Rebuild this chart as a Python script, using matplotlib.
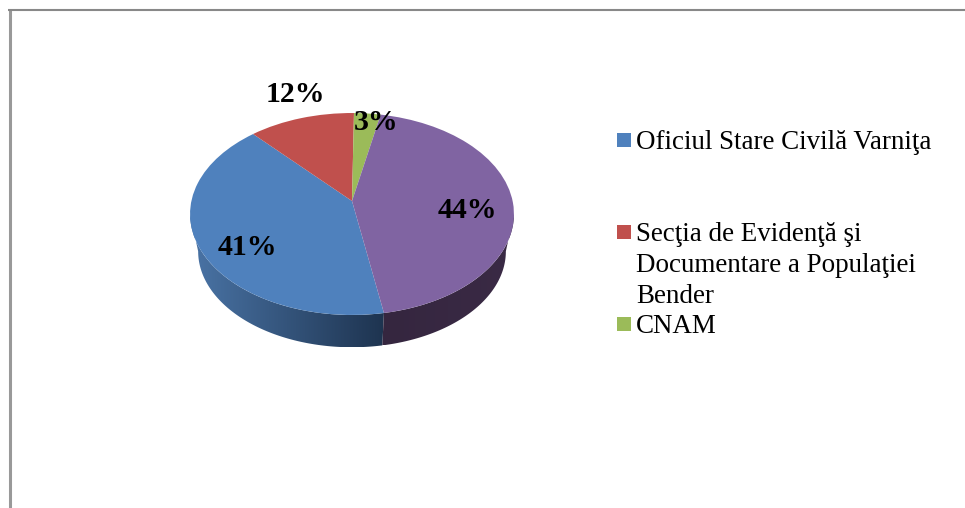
import numpy as np
import matplotlib
matplotlib.use("Agg")
import matplotlib.pyplot as plt
from matplotlib.colors import LinearSegmentedColormap
from matplotlib.patches import Polygon, Rectangle
from matplotlib.transforms import Transform

# values, clockwise from the blue slice
values = [41, 12, 3, 44]
slice_colors = ["#4f81bd", "#c0504d", "#9bbb59", "#8064a2"]
legend_names = [
    "Oficiul Stare Civilă Varniţa",
    "Secţia de Evidenţă şi\nDocumentare a Populaţiei\nBender",
    "CNAM",
]

# pie drawing setup, in pixels of the picture
cx, cy = 352, 201
a, b, k = 160.6, 99.3, 0.1287
low_scale, low_drop = 0.95, 38
label_xy = [(247, 247.5), (295, 94.5), (376, 122.5), (467, 210.5)]
legend_y = [140, 232, 324]

plt.rcParams["font.family"] = ["Liberation Serif", "DejaVu Serif"]


def project(x, y):
    w = 1 + k * y
    return cx + a * x / w, cy - b * y / w


class Perspective(Transform):
    input_dims = 2
    output_dims = 2

    def transform_non_affine(self, values):
        v = np.asarray(values, dtype=float)
        px, py = project(v[:, 0], v[:, 1])
        return np.column_stack([px, py])


def side_outline(start, stop):
    t = np.radians(np.linspace(start, stop, 120))
    px, py = project(np.cos(t), np.sin(t))
    lx = cx + (px - cx) * low_scale
    ly = cy + low_drop + (py - cy) * low_scale
    return np.vstack([np.column_stack([px, py]),
                      np.column_stack([lx, ly])[::-1]])


def draw_side(ax, start, stop, left_color, right_color):
    pts = side_outline(start, stop)
    poly = Polygon(pts, closed=True, facecolor="none", edgecolor="none")
    ax.add_patch(poly)
    cmap = LinearSegmentedColormap.from_list("side", [left_color, right_color])
    grad = np.linspace(0, 1, 256).reshape(1, -1)
    im = ax.imshow(grad, cmap=cmap, aspect="auto", zorder=1,
                   extent=(pts[:, 0].min(), pts[:, 0].max(), pts[:, 1].max(), pts[:, 1].min()))
    im.set_clip_path(poly)


fig = plt.figure(figsize=(9.65, 5.08), dpi=100)
ax = fig.add_axes([0, 0, 1, 1])

wedges, _ = ax.pie(values, colors=slice_colors, startangle=-80, counterclock=False)
persp = Perspective()
for w in wedges:
    w.set_transform(persp + ax.transData)
    w.set_zorder(2)
    w.set_linewidth(0)

# visible rim runs between the two tangent points of the projected circle
tangent = np.degrees(np.arcsin(k))
draw_side(ax, -180 + tangent, wedges[0].theta2, "#4a74a6", "#1e3450")
draw_side(ax, wedges[3].theta1 + 360, -tangent, "#35263f", "#3a2a45")

for v, (x, y) in zip(values, label_xy):
    ax.text(x, y, "{0}%".format(v), fontsize=21.5, fontweight="bold",
            color="black", ha="center", va="center", zorder=3)

for name, color, y in zip(legend_names, slice_colors, legend_y):
    ax.add_patch(Rectangle((617, y - 7), 14, 14, facecolor=color, edgecolor="none"))
    ax.text(636, y - 10, name, fontsize=19.45, color="black", ha="left", va="top",
            linespacing=1.31)

# outer frame, cut by the picture on the right and at the bottom
ax.plot([9.5, 9.5], [9, 508], color="#999999", lw=2.2, solid_capstyle="butt")
ax.plot([8, 965], [10, 10], color="#888888", lw=1.5, solid_capstyle="butt")

ax.set_xlim(0, 965)
ax.set_ylim(508, 0)
ax.set_aspect("auto")
ax.axis("off")

fig.savefig("out.png", dpi=100)
